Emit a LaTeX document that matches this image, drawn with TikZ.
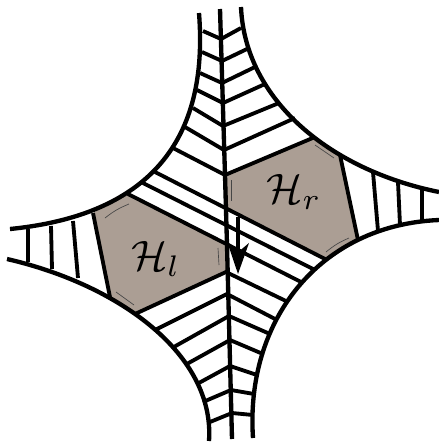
\documentclass[tikz,border=0pt]{standalone}
\usepackage{amsmath, amssymb}
\usepackage{xcolor}
\usetikzlibrary{arrows.meta, positioning}
\definecolor{hexbrown}{RGB}{171,158,148}
\definecolor{seamgray}{RGB}{70,70,70}

\begin{document}
\begin{tikzpicture}[
  x=0.6pt, y=-0.6pt,
  face/.style={fill=hexbrown, draw=none},
  leg/.style={line width=2.6pt, color=black},
  rung/.style={line width=2.3pt, color=black},
  seam/.style={line width=0.4pt, color=seamgray},
  flow/.style={-{Stealth[length=19pt, width=13pt, inset=6pt, slant=0.08]}, line width=2.1pt, color=black},
  lab/.style={scale=2.55, inner sep=0pt}
]
\useasboundingbox (0,0) rectangle (439,444);
% hexagons
\fill[face] (128,193) -- (227,245) -- (226,272) -- (135,314) -- (110,297) -- (93,213) -- cycle;
\fill[face] (225,175) -- (315,137) -- (340,155) -- (358,240) -- (328,260) -- (225,206) -- cycle;
% outer curves
\draw[leg] (199,13)  .. controls (209,140) and (150,215) .. (10,229);
\draw[leg] (241,7)   .. controls (245,100) and (330,170) .. (439,192);
\draw[leg] (253,438) .. controls (245,320) and (320,225) .. (439,220);
\draw[leg] (209,441) .. controls (215,355) and (120,285) .. (7,259);
\draw[leg] (220,9) -- (225,175) -- (227,245) -- (232,439);
% rungs, left and right of the spine
\foreach \ax/\ay/\bx/\by/\cx/\cy in {
  203/31/221/39/241/28, 202/52/222/61/247/49, 200/73/222/83/255/67,
  197/90/223/103/265/84, 193/108/223/126/279/103, 185/127/224/150/295/118,
  173/148/225/175/315/137,
  155/330/227/294/277/320, 172/348/229/316/270/334, 185/365/230/340/263/354,
  197/384/230/366/257/375, 203/402/231/390/254/394, 210/422/232/413/253/415,
  135/314/226/272/288/302}
  \draw[rung] (\ax,\ay) -- (\bx,\by) -- (\cx,\cy);
\draw[rung] (155,172) -- (327,260);
\draw[rung] (143,183) -- (315,270);
\draw[rung] (128,194) -- (303,283);
% side rungs
\foreach \ax/\ay/\bx/\by in {
  28/229/28/262, 51/226/52/269, 73/221/78/278, 93/213/110/297,
  422/190/422/220, 398/182/400/225, 373/172/378/231, 340/155/358/240}
  \draw[rung] (\ax,\ay) -- (\bx,\by);
% thin seams at the corners
\draw[seam] (105,218) to[bend left=8] (129,204);
\draw[seam] (116,292) -- (134,305);
\draw[seam] (218,248) -- (219,265);
\draw[seam] (315,145) -- (334,158);
\draw[seam] (231,180) -- (231,201);
\draw[seam] (326,252) to[bend left=8] (349,238);
\fill (330,258) .. controls (336,250) and (344,247) .. (352,245) -- (358,240) -- (328,260) -- cycle;
% arrow
\coordinate (flowstart) at (238,217);
\coordinate (flowend) at (238,274);
\draw[flow] (flowstart) -- (flowend);
% labels
\node[lab] (Hl) at (156,259) {$\mathcal{H}_l$};
\node[lab] (Hr) at (294,192) {$\mathcal{H}_r$};
\end{tikzpicture}
\end{document}
